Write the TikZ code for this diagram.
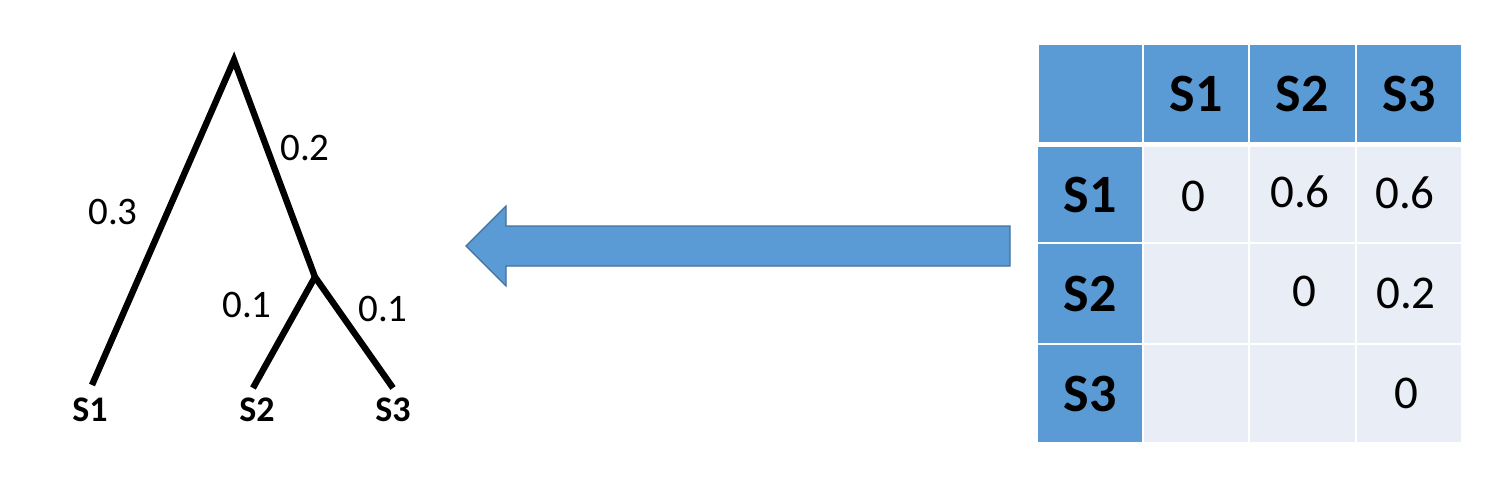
\documentclass[tikz,border=0pt]{standalone}
\usepackage{fontspec}
\setmainfont{Carlito}
\usetikzlibrary{positioning,calc}
\usepackage{xcolor}
\definecolor{cellblue}{RGB}{91,155,213}
\definecolor{cellpale}{RGB}{233,237,245}
\definecolor{edgeblue}{RGB}{65,113,156}

\tikzset{
  branch/.style={line width=3.2pt, line join=miter},
  blen/.style={inner sep=0pt, font=\fontsize{19.5}{22}\selectfont},
  leaf/.style={inner sep=0pt, font=\fontsize{18}{21}\selectfont\bfseries},
  head/.style={inner sep=0pt, font=\fontsize{27}{30}\selectfont\bfseries},
  val/.style={inner sep=0pt, font=\fontsize{23.5}{27}\selectfont}
}

\begin{document}
\begin{tikzpicture}[x=0.5pt, y=-0.5pt]
\useasboundingbox (0,0) rectangle (1510,492);

% tree
\coordinate (root) at (234,60);
\coordinate (mid) at (315,277);
\coordinate (e1) at (92,385);
\coordinate (e2) at (253,388);
\coordinate (e3) at (393,388);
\draw[branch] (e1) -- (root) -- (mid) -- (e3);
\draw[branch] (mid) -- (e2);
\node[blen] (l1) at (113,212) {0.3};
\node[blen] (l2) at (305,148) {0.2};
\node[blen] (l3) at (247,305) {0.1};
\node[blen] (l4) at (383,309) {0.1};
\node[leaf] (s1) at (90,410) {S1};
\node[leaf] (s2) at (257,410) {S2};
\node[leaf] (s3) at (393,410) {S3};

% arrow
\coordinate (tip) at (466,246);
\coordinate (tail) at (1010,246);
\draw[edgeblue, line width=0.6pt, fill=cellblue]
  (tail) ++(0,-20) -- ($(tip)+(40,-20)$) -- ($(tip)+(40,-40)$) -- (tip)
  -- ($(tip)+(40,40)$) -- ($(tip)+(40,20)$) -- ($(tail)+(0,20)$) -- cycle;

% table cells
\foreach \xa/\xb in {1143/1249,1249/1356,1356/1462}
  \foreach \ya/\yb in {146/243,243/344,344/443}
    \fill[cellpale] (\xa+1,\ya+1) rectangle (\xb-1,\yb-1);
\foreach \xa/\xb in {1038/1143,1143/1249,1249/1356,1356/1462}
  \fill[cellblue] (\xa+1,45) rectangle (\xb-1,142);
\foreach \ya/\yb in {146/243,243/344,344/443}
  \fill[cellblue] (1038,\ya+1) rectangle (1142,\yb-1);

% table text
\node[head] (h1) at (1196,94) {S1};
\node[head] (h2) at (1302,94) {S2};
\node[head] (h3) at (1409,94) {S3};
\node[head] (r1) at (1090,195) {S1};
\node[head] (r2) at (1090,294) {S2};
\node[head] (r3) at (1090,394) {S3};
\node[val] (v11) at (1193,196) {0};
\node[val] (v12) at (1300,192) {0.6};
\node[val] (v13) at (1405,193) {0.6};
\node[val] (v22) at (1304,291) {0};
\node[val] (v23) at (1406,293) {0.2};
\node[val] (v33) at (1406,393) {0};
\end{tikzpicture}
\end{document}
